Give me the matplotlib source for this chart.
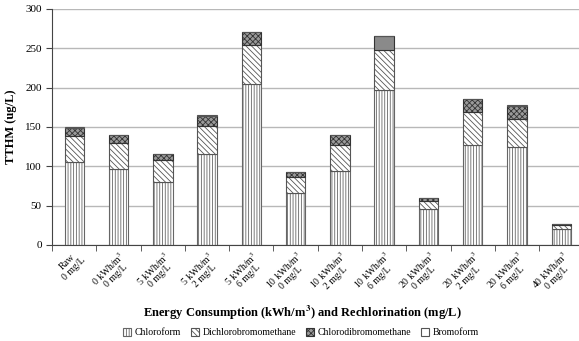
import matplotlib
matplotlib.use("Agg")
import matplotlib.pyplot as plt
import numpy as np

plt.rcParams['font.family'] = ['Liberation Serif', 'DejaVu Serif']
plt.rcParams['mathtext.fontset'] = 'stix'
plt.rcParams['hatch.linewidth'] = 0.6

labels = ["Raw\n0 mg/L",
          "0 kWh/m$^3$\n0 mg/L", "5 kWh/m$^3$\n0 mg/L", "5 kWh/m$^3$\n2 mg/L",
          "5 kWh/m$^3$\n6 mg/L", "10 kWh/m$^3$\n0 mg/L", "10 kWh/m$^3$\n2 mg/L",
          "10 kWh/m$^3$\n6 mg/L", "20 kWh/m$^3$\n0 mg/L", "20 kWh/m$^3$\n2 mg/L",
          "20 kWh/m$^3$\n6 mg/L", "40 kWh/m$^3$\n0 mg/L"]

chloroform = [105.5, 97, 80.5, 115, 204, 65.5, 94, 197, 45, 127, 124, 20.5]
dichlorobromo = [33, 32, 27, 36, 49.5, 21, 33, 50.5, 11, 42, 36.5, 4.5]
chlorodibromo = [10.5, 10.5, 8, 13, 16.5, 6, 12.5, 17.5, 3.5, 16.5, 16.5, 1.5]
bromoform = [0.5, 0.5, 0.5, 0.5, 0.5, 0.5, 0.5, 0.5, 0.5, 0.5, 0.5, 0.5]

x = np.arange(len(labels))
w = 0.44
edge = '#555555'

fig = plt.figure(figsize=(5.79, 3.41), dpi=100)
ax = fig.add_axes([0.09, 0.282, 0.91, 0.692])
ax.set_axisbelow(True)
ax.yaxis.grid(True, color='#b8b8b8', linewidth=1.0)

b1 = ax.bar(x, chloroform, w, color='white', edgecolor='#666666', hatch='||||||',
            linewidth=0.8, label='Chloroform')
bottom = np.array(chloroform)
b2 = ax.bar(x, dichlorobromo, w, bottom=bottom, color='white', edgecolor=edge,
            hatch='\\\\\\\\\\\\', linewidth=0.8, label='Dichlorobromomethane')
bottom = bottom + np.array(dichlorobromo)
b3 = ax.bar(x, chlorodibromo, w, bottom=bottom, color='#9a9a9a', edgecolor='#333333',
            hatch='xxxxxx', linewidth=0.8, label='Chlorodibromomethane')
# the 10 kWh/m3, 6 mg/L sample is shaded solid
b3[7].set_hatch('')
b3[7].set_facecolor('#8a8a8a')
bottom = bottom + np.array(chlorodibromo)
b4 = ax.bar(x, bromoform, w, bottom=bottom, color='white', edgecolor=edge,
            linewidth=0.8, label='Bromoform')

ax.set_ylim(0, 300)
ax.set_yticks(range(0, 301, 50))
ax.set_xlim(-0.5, 11.4)
ax.set_xticks(x)
ax.set_xticklabels(labels, rotation=45, ha='right', rotation_mode='anchor',
                   fontsize=7, linespacing=0.95, multialignment='center')
ax.set_xticks(np.arange(-0.5, 11.5, 1), minor=True)
ax.tick_params(axis='x', which='major', length=0, pad=3)
ax.tick_params(axis='x', which='minor', length=4, color='#444444')
ax.tick_params(axis='y', labelsize=8, length=4, color='#444444')
for s in ['top', 'right']:
    ax.spines[s].set_visible(False)
for s in ['left', 'bottom']:
    ax.spines[s].set_color('#444444')

ax.set_ylabel('TTHM (ug/L)', fontsize=9, fontweight='bold', labelpad=6)
ax.set_xlabel('Energy Consumption (kWh/m$^\\mathbf{3}$) and Rechlorination (mg/L)',
              fontsize=9, fontweight='bold', labelpad=5, x=0.475)

fig.legend(handles=[b1, b2, b3, b4], loc='lower center', ncol=4, frameon=False,
           fontsize=7, bbox_to_anchor=(0.52, -0.015), handlelength=0.8,
           handleheight=0.8, handletextpad=0.4, columnspacing=1.0)

fig.savefig('out.png', dpi=100)
